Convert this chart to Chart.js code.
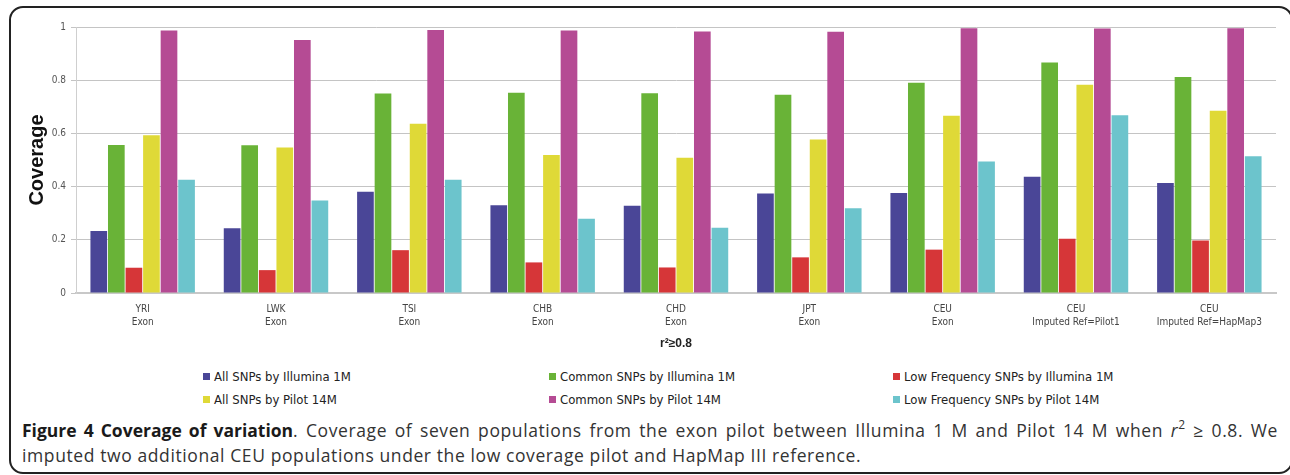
<!DOCTYPE html>
<html lang="en">
<head>
  <meta charset="UTF-8">
  <title>Coverage of variation</title>
  <script src="https://cdn.jsdelivr.net/npm/chart.js"></script>
  <style>
    body {
      margin: 0;
      padding: 0;
      background: #fff;
      width: 1290px;
      height: 475px;
      overflow: hidden;
      position: relative;
    }
    #frame {
      position: absolute;
      left: 9px;
      top: 6px;
      width: 1280px;
      height: 464px;
      border: 2px solid #222;
      border-radius: 14px;
    }
    #chart-box {
      position: absolute;
      left: 0;
      top: 0;
      width: 1290px;
      height: 360px;
    }
    #legend {
      position: absolute;
      left: 203px;
      top: 365px;
      display: grid;
      grid-template-columns: 346px 344px 300px;
      grid-auto-rows: 23px;
      font-family: 'DejaVu Sans Condensed', 'DejaVu Sans', sans-serif;
      font-size: 13px;
      color: #222;
    }
    #legend .item {
      display: flex;
      align-items: center;
      white-space: nowrap;
    }
    #legend .sw {
      width: 7px;
      height: 7px;
      margin-right: 4px;
    }
    #caption {
      position: absolute;
      left: 22px;
      top: 418px;
      width: 1256px;
      font-family: 'Open Sans', sans-serif;
      font-size: 17.5px;
      letter-spacing: 0.6px;
      line-height: 25px;
      color: #333;
    }
    #caption .l1 {
      text-align: justify;
      text-align-last: justify;
      white-space: nowrap;
    }
    #caption b { color: #1a1a1a; letter-spacing: 0; }
  </style>
</head>
<body>
  <div id="frame"></div>
  <div id="chart-box"><canvas id="cov" width="1290" height="360"></canvas></div>
  <div id="legend"></div>
  <div id="caption">
    <div class="l1"><b>Figure 4 Coverage of variation</b>. Coverage of seven populations from the exon pilot between Illumina 1 M and Pilot 14 M when <i>r</i><sup style="font-size:12px;vertical-align:8px;line-height:0">2</sup> ≥ 0.8. We</div>
    <div>imputed two additional CEU populations under the low coverage pilot and HapMap III reference.</div>
  </div>
  <script>
    // populations (two-line tick labels)
    const groups = [
      ['YRI', 'Exon'], ['LWK', 'Exon'], ['TSI', 'Exon'], ['CHB', 'Exon'], ['CHD', 'Exon'],
      ['JPT', 'Exon'], ['CEU', 'Exon'], ['CEU', 'Imputed Ref=Pilot1'], ['CEU', 'Imputed Ref=HapMap3']
    ];

    const seriesNames = [
      'All SNPs by Illumina 1M', 'Common SNPs by Illumina 1M', 'Low Frequency SNPs by Illumina 1M',
      'All SNPs by Pilot 14M', 'Common SNPs by Pilot 14M', 'Low Frequency SNPs by Pilot 14M'
    ];

    // coverage values
    const allIllumina    = [0.233, 0.243, 0.381, 0.330, 0.328, 0.374, 0.376, 0.437, 0.414];
    const commonIllumina = [0.556, 0.555, 0.750, 0.753, 0.751, 0.745, 0.790, 0.867, 0.812];
    const lowIllumina    = [0.095, 0.086, 0.161, 0.115, 0.096, 0.134, 0.163, 0.204, 0.197];
    const allPilot       = [0.593, 0.547, 0.636, 0.519, 0.508, 0.577, 0.666, 0.783, 0.685];
    const commonPilot    = [0.987, 0.951, 0.989, 0.987, 0.983, 0.982, 0.995, 0.994, 0.995];
    const lowPilot       = [0.426, 0.348, 0.426, 0.279, 0.245, 0.319, 0.494, 0.668, 0.514];

    const colors = ['#4a4697', '#69b337', '#d63638', '#dfd937', '#b54b94', '#6cc4cc'];
    const values = [allIllumina, commonIllumina, lowIllumina, allPilot, commonPilot, lowPilot];

    const tickFont = { family: "'DejaVu Sans Condensed', 'DejaVu Sans', sans-serif", size: 10 };

    const ctx = document.getElementById('cov').getContext('2d');
    const chart = new Chart(ctx, {
      type: 'bar',
      data: {
        labels: groups,
        datasets: values.map((v, i) => ({
          label: seriesNames[i],
          data: v,
          backgroundColor: colors[i],
          borderWidth: 0,
          categoryPercentage: 0.79,
          barPercentage: 0.95,
        })),
      },
      options: {
        responsive: false,
        animation: false,
        layout: { padding: { left: 0, top: 27, right: 14, bottom: 0 } },
        plugins: {
          legend: { display: false },
          tooltip: { enabled: false },
        },
        scales: {
          x: {
            grid: { display: false, drawTicks: false },
            border: { display: true, color: '#c8c8c8', width: 2 },
            ticks: { font: { ...tickFont, lineHeight: 1.3 }, color: '#444', padding: 10, maxRotation: 0, autoSkip: false },
            title: {
              display: true,
              text: 'r²≥0.8',
              font: { family: "'Liberation Sans', Arial, sans-serif", size: 12, weight: 'bold' },
              color: '#222',
              padding: { top: 0, bottom: 9 },
            },
            afterFit: (s) => { s.height = 67; },
          },
          y: {
            min: 0,
            max: 1,
            ticks: {
              stepSize: 0.2,
              font: tickFont,
              color: '#555',
              padding: 5,
              callback: (v) => String(Number(v.toFixed(1))),
            },
            grid: { color: '#c4c4c4', borderDash: [2, 2], tickLength: 5, drawTicks: true },
            border: { display: true, color: '#cfcfcf', width: 1 },
            title: {
              display: true,
              text: 'Coverage',
              font: { family: "'Liberation Sans', Arial, sans-serif", size: 20, weight: 'bold' },
              color: '#111',
              padding: { top: 25, bottom: 0 },
            },
            afterFit: (s) => { s.width = 76; },
          },
        },
      },
    });

    // legend, 3 columns, from the chart datasets
    const legendEl = document.getElementById('legend');
    chart.data.datasets.forEach((ds) => {
      const item = document.createElement('div');
      item.className = 'item';
      const sw = document.createElement('span');
      sw.className = 'sw';
      sw.style.background = ds.backgroundColor;
      item.appendChild(sw);
      item.appendChild(document.createTextNode(ds.label));
      legendEl.appendChild(item);
    });
  </script>
</body>
</html>
